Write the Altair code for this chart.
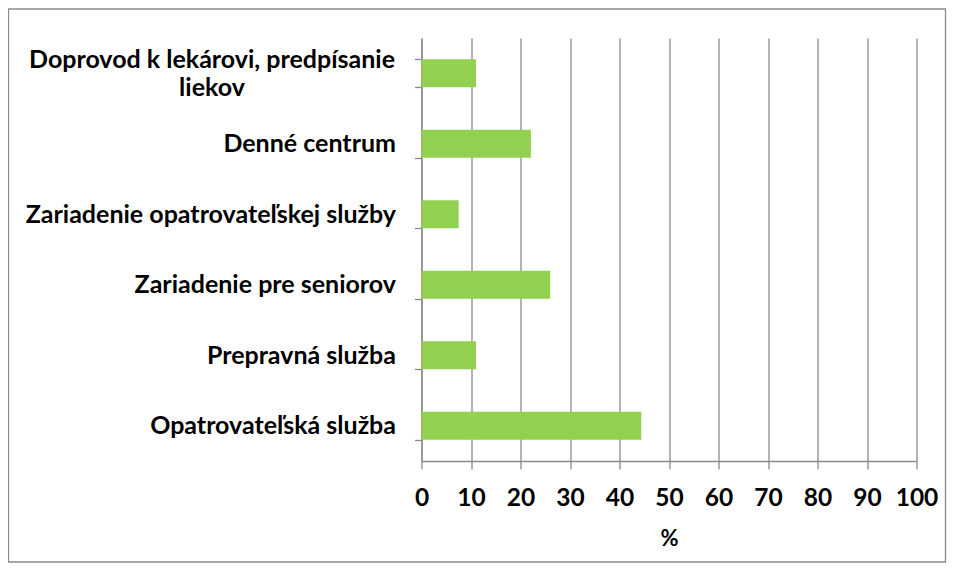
import altair as alt
import pandas as pd

categories = [
    "Doprovod k lekárovi, predpísanie liekov",
    "Denné centrum",
    "Zariadenie opatrovateľskej služby",
    "Zariadenie pre seniorov",
    "Prepravná služba",
    "Opatrovateľská služba",
]
values = [11.0, 22.1, 7.5, 26.0, 11.0, 44.4]
x_ticks = [0, 10, 20, 30, 40, 50, 60, 70, 80, 90, 100]
x_title = "%"

df = pd.DataFrame({"cat": categories, "val": values})

FONT = "Lato"
GRAY = "#8a8a8a"
first = categories[0]

label_expr = (
    f"datum.label == '{first}' ? ['Doprovod k lekárovi, predpísanie', 'liekov'] : datum.label"
)
is_first = f"datum.label == '{first}'"

bars = alt.Chart(df).mark_bar(color="#92D050").encode(
    x=alt.X(
        "val:Q",
        scale=alt.Scale(domain=[0, 100], nice=False),
        axis=alt.Axis(
            values=x_ticks,
            title=x_title,
            grid=True,
            gridColor=GRAY,
            gridWidth=1.3,
            domainColor=GRAY,
            domainWidth=1.3,
            tickColor=GRAY,
            tickWidth=1.3,
            tickSize=8,
            labelOverlap=False,
            labelFlush=False,
            labelFont=FONT,
            labelFontWeight="bold",
            labelFontSize=24.5,
            labelColor="#000",
            labelPadding=17,
            titleFont=FONT,
            titleFontWeight="bold",
            titleFontSize=22,
            titleColor="#000",
            titlePadding=19,
        ),
    ),
    y=alt.Y(
        "cat:N",
        sort=categories,
        title=None,
        scale=alt.Scale(paddingInner=0.6, paddingOuter=0.3),
        axis=alt.Axis(
            tickBand="extent",
            domainColor=GRAY,
            domainWidth=1.3,
            tickColor=GRAY,
            tickWidth=1.3,
            tickSize=7,
            labelExpr=label_expr,
            labelFont=FONT,
            labelFontWeight="bold",
            labelFontSize=25,
            labelColor="#000",
            labelLimit=500,
            labelLineHeight=28,
            labelAlign=alt.condition(is_first, alt.value("center"), alt.value("right")),
            labelPadding=alt.condition(is_first, alt.value(203), alt.value(19)),
            labelOffset=alt.condition(is_first, alt.value(-14), alt.value(0)),
        ),
    ),
)

frame = alt.Chart(pd.DataFrame({"a": [0]})).mark_rect(
    fill="transparent", stroke="#8a8a8a", strokeWidth=1.3
).encode(
    x=alt.value(-413), x2=alt.value(524), y=alt.value(-29), y2=alt.value(524)
)

chart = alt.layer(bars, frame).properties(
    width=495,
    height=423,
    autosize=alt.AutoSizeParams(type="none"),
    padding={"left": 413.5, "top": 30, "right": 30.5, "bottom": 102},
).configure_view(stroke=None)

chart.save("out.html", embed_options={"renderer": "svg", "actions": False})
